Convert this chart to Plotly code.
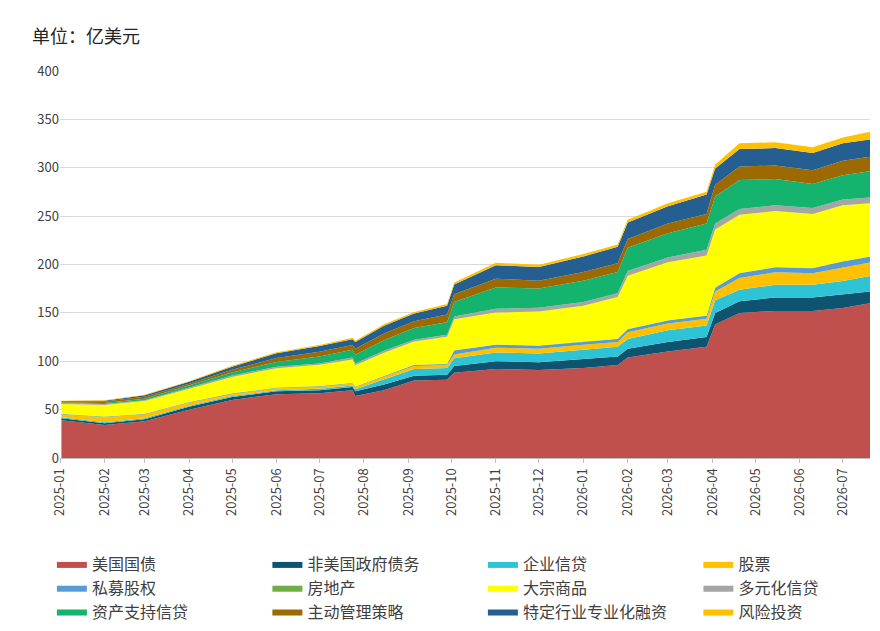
import plotly.graph_objects as go

dates = ["2025-01-02", "2025-02-01", "2025-03-01", "2025-04-01", "2025-05-01", "2025-06-01",
         "2025-07-01", "2025-07-24", "2025-07-26", "2025-08-15", "2025-09-05", "2025-09-28",
         "2025-10-03", "2025-11-01", "2025-12-01", "2026-01-01", "2026-01-25", "2026-02-01",
         "2026-03-01", "2026-03-28", "2026-04-03", "2026-04-20", "2026-05-15", "2026-06-10",
         "2026-07-01", "2026-07-20"]

us_treasury = [39, 34, 38, 50, 60, 66, 67, 70, 64, 70, 80, 81, 88, 92, 91, 93, 96, 104, 110, 115, 138, 150, 152, 152, 155, 160]
non_us_gov = [2, 2, 2, 3, 3, 3, 3, 3.5, 5, 6, 5, 5, 7, 8, 8, 9, 9, 9, 10, 10, 12, 12, 14, 14, 14, 12]
corp_credit = [1, 1, 1, 1, 1, 1, 1.5, 1.5, 2, 5, 7, 7, 8, 9, 9, 10, 10, 10, 12, 12, 13, 12, 13, 13, 14, 16]
equity = [3, 5, 4, 3, 2, 2, 2, 2, 2, 3, 3, 3, 4, 5, 5, 5, 5, 7, 7, 7, 9, 12, 13, 12, 14, 14]
private_equity = [0.5, 0.5, 0.5, 0.5, 0.5, 0.5, 0.5, 0.5, 0.5, 0.5, 1, 1, 4, 3, 3, 3, 3, 3, 3, 3, 4, 5, 5, 5, 6, 6]
real_estate = [0.3] * 26
commodities = [10, 12, 13, 14, 17, 20, 22, 24, 22, 24, 24, 28, 32, 33, 35, 37, 43, 55, 60, 62, 60, 60, 58, 56, 58, 55]
multi_credit = [1, 1, 1, 1, 1.5, 1.5, 1.5, 2, 2, 2, 2, 2, 3, 4, 4, 4, 4, 5, 5, 6, 6, 6, 6, 6, 6, 6]
abs_credit = [0.5, 1, 1.5, 2, 3, 5, 7, 8, 9, 11, 12, 13, 15, 22, 20, 22, 22, 24, 25, 27, 28, 30, 27, 25, 25, 27]
active_mgmt = [1, 1.5, 2, 2, 3, 4, 5, 5, 6, 7, 7, 8, 8, 9, 8, 9, 9, 9, 10, 10, 12, 14, 14, 14, 15, 15]
specialty_fin = [0.5, 1, 1.5, 2, 3, 5, 6, 6, 7, 8, 8, 9, 10, 14, 14, 16, 17, 17, 18, 20, 17, 18, 18, 18, 18, 18]
venture = [0.5, 0.5, 0.5, 0.5, 1, 1, 1, 1.5, 1.5, 1.5, 1.5, 2, 2, 2.5, 2.5, 2.5, 2.5, 3, 3, 3, 4, 6, 6, 6, 6, 8]

series = [
    ("美国国债", us_treasury, "#C0504D"),
    ("非美国政府债务", non_us_gov, "#0E5470"),
    ("企业信贷", corp_credit, "#2EC4D6"),
    ("股票", equity, "#FFC000"),
    ("私募股权", private_equity, "#5B9BD5"),
    ("房地产", real_estate, "#70AD47"),
    ("大宗商品", commodities, "#FFFF00"),
    ("多元化信贷", multi_credit, "#A5A5A5"),
    ("资产支持信贷", abs_credit, "#14B46E"),
    ("主动管理策略", active_mgmt, "#9C6A00"),
    ("特定行业专业化融资", specialty_fin, "#255E91"),
    ("风险投资", venture, "#FFC000"),
]

fig = go.Figure()
for name, vals, color in series:
    fig.add_trace(go.Scatter(x=dates, y=vals, name=name, stackgroup="one", mode="lines",
                             line={"width": 0, "color": color}, fillcolor=color))

fig.update_layout(
    width=880, height=631, plot_bgcolor="white", paper_bgcolor="white",
    font={"family": "Noto Sans CJK SC", "size": 13, "color": "#404040"},
    margin={"l": 52, "r": 18, "t": 63, "b": 181, "autoexpand": False},
    xaxis={"range": ["2025-01-01", "2026-07-20"], "dtick": "M1", "tick0": "2025-01-01",
           "tickformat": "%Y-%m", "tickangle": -90, "showgrid": False, "showline": True,
           "linecolor": "#BFBFBF", "ticks": "outside", "tickcolor": "#BFBFBF", "ticklen": 4},
    yaxis={"range": [0, 400], "dtick": 50, "gridcolor": "#D9D9D9", "zeroline": False},
    legend={"orientation": "h", "x": -0.01, "y": -0.23, "yanchor": "top",
            "entrywidthmode": "fraction", "entrywidth": 0.25,
            "font": {"size": 16, "color": "#404040"}, "traceorder": "normal"},
    annotations=[{"text": "单位：亿美元", "xref": "paper", "yref": "paper", "x": -0.037, "y": 1.055,
                  "xanchor": "left", "yanchor": "bottom", "showarrow": False,
                  "font": {"size": 18, "color": "#262626"}}],
)

fig.write_html("out.html")
